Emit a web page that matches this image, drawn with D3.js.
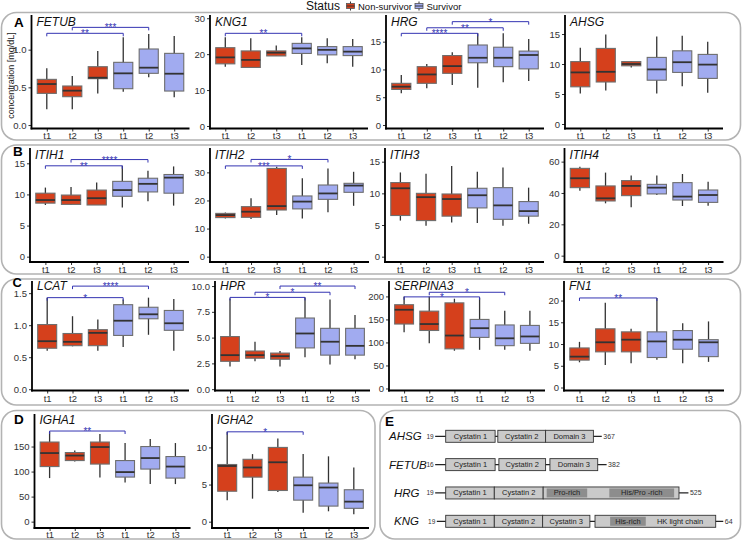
<!DOCTYPE html>
<html><head><meta charset="utf-8">
<script src="https://cdn.jsdelivr.net/npm/d3@7"></script>
<style>body{margin:0;background:#fff} svg{display:block;font-family:Arial,"Liberation Sans",sans-serif}</style>
</head><body><svg id="c" width="744" height="542"></svg>
<script>
// ---------- DATA ----------
const timeLabels = ["t1","t2","t3","t1","t2","t3"];
const groupStatus = ["Non-survivor","Non-survivor","Non-survivor","Survivor","Survivor","Survivor"];
const statusNames = ["Non-survivor","Survivor"];
// each box: [lower whisker, Q1, median, Q3, upper whisker]
const FETUB = [[0.21,0.42,0.544,0.606,0.752],[0.21,0.376,0.456,0.518,0.65],[0.42,0.615,0.628,0.774,0.982],[0.442,0.482,0.686,0.832,1.164],[0.633,0.686,0.761,1.009,1.208],[0.367,0.451,0.681,0.951,1.181]];
const KNG1 = [[16.5,17.3,19.1,21.8,24.7],[16.3,16.3,18.4,20.9,24.4],[19.5,19.5,20.4,20.9,22.4],[17.0,20.2,21.6,23.0,24.7],[17.5,19.8,21.2,22.1,24.4],[16.5,19.6,20.7,22.1,24.2]];
const HRG = [[5.7,6.4,6.9,7.5,9.0],[6.6,7.5,9.1,10.5,11.0],[7.2,9.3,10.6,12.5,13.1],[6.7,11.2,12.1,14.4,16.5],[7.7,10.5,12.1,14.0,16.5],[7.9,10.1,12.6,13.3,15.5]];
const AHSG = [[5.1,6.2,8.6,10.4,12.7],[5.6,7.0,8.7,12.6,14.9],[9.4,9.7,10.0,10.4,10.5],[5.1,7.3,9.1,11.1,14.6],[6.3,8.6,10.3,12.2,14.7],[5.2,7.6,9.9,11.6,13.7]];
const ITIH1 = [[8.3,8.6,9.1,10.2,11.1],[8.3,8.4,9.1,9.9,11.2],[8.3,8.3,9.4,10.7,11.9],[7.9,9.7,10.7,12.1,14.6],[8.9,10.4,11.7,12.6,13.8],[8.2,10.2,12.7,13.2,14.5]];
const ITIH2 = [[13.6,13.9,14.8,15.4,15.7],[13.4,14.0,16.0,17.8,20.8],[14.8,16.6,18.0,31.4,32.0],[13.6,17.0,19.6,21.6,27.9],[15.8,20.4,22.5,25.5,31.4],[18.1,22.9,25.3,26.1,30.2]];
const ITIH3 = [[5.7,6.5,10.8,11.7,13.3],[4.9,5.7,9.4,10.0,13.1],[5.4,6.4,9.1,9.9,14.3],[5.3,7.7,9.7,10.8,13.4],[4.9,5.9,8.1,10.9,14.1],[5.2,6.4,7.2,8.7,10.9]];
const ITIH4 = [[41.5,43.4,49.4,55.7,56.8],[33.4,34.9,36.6,44.5,53.0],[30.9,38.3,44.5,47.9,51.1],[38.7,39.4,43.4,45.5,51.1],[31.7,35.5,37.7,46.6,52.1],[31.9,34.0,38.7,41.9,47.2]];
const LCAT = [[0.60,0.64,0.75,1.01,1.43],[0.67,0.68,0.74,0.87,1.14],[0.60,0.68,0.88,0.93,1.09],[0.66,0.84,1.07,1.32,1.40],[0.85,1.10,1.17,1.28,1.43],[0.60,0.92,1.03,1.23,1.41]];
const HPR = [[2.2,2.7,3.3,5.1,8.8],[2.7,3.0,3.3,3.7,4.6],[2.2,2.9,3.2,3.5,3.7],[3.1,4.0,5.4,6.9,8.9],[2.4,3.3,4.6,5.9,8.7],[2.9,3.3,4.2,5.9,7.2]];
const SERPINA3 = [[122,140,171,182,200],[98,126,140,168,200],[82,86,115,186,195],[84,111,131,150,197],[84,93,109,138,169],[82,98,113,137,169]];
const FN1 = [[5.8,6.3,7.1,9.1,10.5],[5.2,8.2,10.4,13.5,19.5],[5.6,8.2,11.0,12.8,13.5],[6.4,6.9,10.6,12.8,20.6],[5.6,8.8,11.0,13.1,14.8],[5.9,7.1,10.4,11.0,15.2]];
const IGHA1 = [[87,110,137,159,180],[120,122,132,138,142],[88,115,149,159,175],[78,89,99,122,157],[75,105,127,150,165],[75,87,110,130,157]];
const IGHA2 = [[2.9,4.1,7.5,7.7,12.1],[3.1,6.0,7.3,8.4,9.1],[4.0,4.2,8.0,10.0,11.2],[1.2,2.9,4.9,6.0,9.1],[1.4,2.1,4.6,5.2,8.8],[1.0,1.8,2.7,4.3,7.3]];

// significance brackets: [from group, to group, y value, label]
const FETUB_sig = [[0,3,1.217,"**"],[1,4,1.296,"***"]];
const KNG1_sig = [[0,3,25.8,"**"]];
const HRG_sig = [[0,3,16.5,"****"],[1,4,17.5,"**"],[2,5,18.6,"*"]];
const ITIH1_sig = [[0,3,14.6,"**"],[1,4,15.6,"****"]];
const ITIH2_sig = [[0,3,32.3,"***"],[1,4,34.6,"*"]];
const LCAT_sig = [[0,3,1.43,"*"],[1,4,1.61,"****"]];
const HPR_sig = [[0,3,8.9,"*"],[1,4,9.4,"*"],[2,5,10.0,"**"]];
const SERPINA3_sig = [[0,3,199,"*"],[1,4,209,"*"]];
const FN1_sig = [[0,3,20.6,"**"]];
const IGHA1_sig = [[0,3,181,"**"]];
const IGHA2_sig = [[0,3,12.1,"*"]];

// y tick labels
const ticks_FETUB = [0,0.5,1.0], ticks_KNG1=[0,10,20,30], ticks_HRG=[0,5,10,15], ticks_AHSG=[0,5,10,15];
const ticks_ITIH1=[0,5,10,15], ticks_ITIH2=[0,10,20,30], ticks_ITIH3=[0,5,10,15], ticks_ITIH4=[0,20,40,60];
const ticks_LCAT=[0,0.5,1.0,1.5], ticks_HPR=[0,2.5,5,7.5,10], ticks_SERPINA3=[0,50,100,150,200], ticks_FN1=[0,5,10,15,20];
const ticks_IGHA1=[0,50,100,150], ticks_IGHA2=[0,5,10];
// y ranges of each panel
const yDomains = {FETUB:[-0.046,1.46],KNG1:[-0.70,30.9],HRG:[-0.63,19.8],AHSG:[-0.75,18.17],
 ITIH1:[-0.857,17.46],ITIH2:[-1.9,38.67],ITIH3:[-0.84,17.16],ITIH4:[-4.04,68.7],
 LCAT:[-0.02,1.69],HPR:[-0.13,10.49],SERPINA3:[-4.4,233.5],FN1:[-0.69,24.5],
 IGHA1:[-12.7,215],IGHA2:[-0.85,14.5]};

// Panel E domain diagram (positions in relative units 0..100)
const geneNames = ["AHSG","FETUB","HRG","KNG"];
const startNums = ["19","16","19","19"];
const endNums = ["367","382","525","64"];
const lineSpans = [[[-3.9,57.8]],[[-3.9,59.6]],[[-3.9,89.9]],[[-3.3,102.8]]];
const domainBoxes = [
 [["Cystatin 1",0,18.3],["Cystatin 2",19.3,37.0],["Domain 3",37.0,54.7]],
 [["Cystatin 1",0,18.3],["Cystatin 2",19.7,37.0],["Domain 3",38.6,56.3]],
 [["Cystatin 1",0,18.0],["Cystatin 2",18.0,36.1],["",36.1,86.4]],
 [["Cystatin 1",0,18.0],["Cystatin 2",18.0,35.9],["Cystatin 3",35.9,53.4],["",55.3,100]]
];
const innerBoxes = [[],[],[["Pro-rich",37.4,52.4],["His/Pro -rich",60.6,84.6]],[["His-rich",60.9,74.1]]];
const extraLabels = [[],[],[],[["HK light chain",86.8]]];

// ---------- LAYOUT ----------
const colors = {"Non-survivor":"#d5401c","Survivor":"#a1abf0"};
const sigColor = "#3434b2";
const rows = [
 {top:15, bottom:128.5, tickY:135, titleY:26, plots:[["FETUB",31.5,158],["KNG1",210,158],["HRG",386,158],["AHSG",565,158]]},
 {top:148, bottom:262, tickY:269, titleY:159, plots:[["ITIH1",30,159],["ITIH2",210,159],["ITIH3",385,159],["ITIH4",564.5,159]]},
 {top:281, bottom:390.5, tickY:398, titleY:290, plots:[["LCAT",32,157],["HPR",215,155],["SERPINA3",389,156],["FN1",564,160]]},
 {top:414, bottom:528, tickY:534, titleY:424, plots:[["IGHA1",34.5,156],["IGHA2",212,157]]}
];
const dataMap = {FETUB,KNG1,HRG,AHSG,ITIH1,ITIH2,ITIH3,ITIH4,LCAT,HPR,SERPINA3,FN1,IGHA1,IGHA2};
const sigMap = {FETUB:FETUB_sig,KNG1:KNG1_sig,HRG:HRG_sig,ITIH1:ITIH1_sig,ITIH2:ITIH2_sig,LCAT:LCAT_sig,HPR:HPR_sig,SERPINA3:SERPINA3_sig,FN1:FN1_sig,IGHA1:IGHA1_sig,IGHA2:IGHA2_sig};
const tickMap = {FETUB:ticks_FETUB,KNG1:ticks_KNG1,HRG:ticks_HRG,AHSG:ticks_AHSG,ITIH1:ticks_ITIH1,ITIH2:ticks_ITIH2,ITIH3:ticks_ITIH3,ITIH4:ticks_ITIH4,LCAT:ticks_LCAT,HPR:ticks_HPR,SERPINA3:ticks_SERPINA3,FN1:ticks_FN1,IGHA1:ticks_IGHA1,IGHA2:ticks_IGHA2};
const fmtMap = {FETUB:".1f",LCAT:".1f",HPR:".1f"};

const svg = d3.select("#c");

// panel frames
const frames = [[1.5,12.5,739,127.5],[1.5,145,739,129],[1.5,279,739,126],[1.5,410.5,373.5,128.5],[380,410.5,360.5,128.5]];
svg.selectAll("rect.frame").data(frames).join("rect").attr("class","frame")
 .attr("x",d=>d[0]).attr("y",d=>d[1]).attr("width",d=>d[2]).attr("height",d=>d[3])
 .attr("rx",15).attr("fill","none").attr("stroke","#b3b3b3").attr("stroke-width",1.6);

// panel letters
[["A",14,26.5,13.5],["B",13,156,13.5],["C",12.5,287.3,12.8],["D",14,423.5,13.5],["E",385,426,13.5]].forEach(l=>{
 svg.append("text").attr("x",l[1]).attr("y",l[2]).attr("font-size",l[3]).attr("font-weight","bold").text(l[0]);
});

// legend
svg.append("text").attr("x",306).attr("y",10).attr("font-size",12).attr("fill","#111").text("Status");
const legX = [346, 414.5];
statusNames.forEach((s,i)=>{
 const g = svg.append("g").attr("transform",`translate(${legX[i]},0)`);
 g.append("line").attr("x1",4.5).attr("x2",4.5).attr("y1",1.5).attr("y2",10.5).attr("stroke","#333").attr("stroke-width",1);
 g.append("rect").attr("x",0.5).attr("y",3.5).attr("width",8).attr("height",5).attr("fill",colors[s]).attr("stroke","#555").attr("stroke-width",0.8);
 g.append("line").attr("x1",0.5).attr("x2",8.5).attr("y1",6).attr("y2",6).attr("stroke","#333").attr("stroke-width",1);
 g.append("text").attr("x",12).attr("y",9.5).attr("font-size",9.5).attr("fill","#111").text(s);
});

// y-axis title
svg.append("text").attr("transform","translate(11,75.5) rotate(-90)").attr("text-anchor","middle")
 .attr("dominant-baseline","central").attr("font-size",9).attr("fill","#222").text("concentration [mg/dL]");

// boxplots
rows.forEach(row=>{
 row.plots.forEach(([name,x0,w])=>{
  const data = dataMap[name];
  const x = d3.scalePoint().domain(d3.range(6)).range([x0,x0+w]).padding(0.6);
  const step = x.step();
  const bw = step*0.75;
  const y = d3.scaleLinear().domain(yDomains[name]).range([row.bottom,row.top]);
  const g = svg.append("g");
  const fmt = fmtMap[name] ? d3.format(fmtMap[name]) : d3.format("d");
  const yAxis = d3.axisLeft(y).tickValues(tickMap[name]).tickSize(3).tickPadding(2).tickFormat(fmt);
  const ya = g.append("g").attr("transform",`translate(${x0},0)`).call(yAxis);
  ya.select(".domain").remove();
  ya.selectAll(".tick line").attr("stroke","#333");
  ya.selectAll(".tick text").attr("font-size",9.5).attr("fill","#333").attr("font-family","Arial, Liberation Sans, sans-serif");
  const xAxis = d3.axisBottom(x).tickSize(3).tickPadding(2).tickFormat(i=>timeLabels[i]);
  const xa = g.append("g").attr("transform",`translate(0,${row.bottom})`).call(xAxis);
  xa.select(".domain").remove();
  xa.selectAll(".tick line").attr("stroke","#333");
  xa.selectAll(".tick text").attr("font-size",9.5).attr("fill","#333").attr("dy",null)
    .attr("font-family","Arial, Liberation Sans, sans-serif")
    .attr("y", row.tickY-row.bottom).attr("dominant-baseline","central");
  g.append("line").attr("x1",x0).attr("x2",x0).attr("y1",row.top).attr("y2",row.bottom+0.9).attr("stroke","#000").attr("stroke-width",1.8);
  g.append("line").attr("x1",x0-0.9).attr("x2",x0+w).attr("y1",row.bottom).attr("y2",row.bottom).attr("stroke","#000").attr("stroke-width",1.8);
  const bx = g.selectAll("g.box").data(data).join("g").attr("class","box");
  bx.append("line").attr("x1",(d,i)=>x(i)).attr("x2",(d,i)=>x(i)).attr("y1",d=>y(d[0])).attr("y2",d=>y(d[4]))
    .attr("stroke","#333").attr("stroke-width",1.3);
  bx.append("rect").attr("x",(d,i)=>x(i)-bw/2).attr("width",bw).attr("y",d=>y(d[3])).attr("height",d=>Math.max(0.5,y(d[1])-y(d[3])))
    .attr("fill",(d,i)=>colors[groupStatus[i]]).attr("stroke","#6e6e6e").attr("stroke-width",1.1);
  bx.append("line").attr("x1",(d,i)=>x(i)-bw/2).attr("x2",(d,i)=>x(i)+bw/2).attr("y1",d=>y(d[2])).attr("y2",d=>y(d[2]))
    .attr("stroke","#333").attr("stroke-width",1.8);
  g.append("text").attr("x",x0+5).attr("y",row.titleY).attr("font-size",12).attr("font-style","italic").attr("fill","#111").text(name);
  const sig = sigMap[name] || [];
  const sg = g.selectAll("g.sig").data(sig).join("g").attr("class","sig");
  sg.append("path").attr("d",d=>{const a=x(d[0]),b=x(d[1]),yy=y(d[2]);return `M${a},${yy+3}V${yy}H${b}V${yy+3}`;})
    .attr("fill","none").attr("stroke",sigColor).attr("stroke-width",1);
  sg.append("text").attr("x",d=>(x(d[0])+x(d[1]))/2).attr("y",d=>y(d[2])+4).attr("text-anchor","middle")
    .attr("font-size",10).attr("fill",sigColor).text(d=>d[3]);
 });
});

// Panel E
const ex = d3.scaleLinear().domain([0,100]).range([445.7,715.7]);
const rowY = d3.scalePoint().domain(geneNames).range([436.3,521.3]);
const labelX = [389,389,394,394];
geneNames.forEach((gname,gi)=>{
 const cy = rowY(gname);
 const g = svg.append("g");
 g.append("text").attr("x",labelX[gi]).attr("y",cy).attr("dominant-baseline","central").attr("font-size",11.5)
  .attr("font-style","italic").attr("fill","#111").text(gname);
 lineSpans[gi].forEach(s=>{
  g.append("line").attr("x1",ex(s[0])).attr("x2",ex(s[1])).attr("y1",cy).attr("y2",cy).attr("stroke","#222").attr("stroke-width",1.2);
 });
 g.append("text").attr("x",ex(lineSpans[gi][0][0])-1.5).attr("y",cy).attr("text-anchor","end").attr("dominant-baseline","central")
  .attr("font-size",6.5).attr("fill","#333").text(startNums[gi]);
 g.append("text").attr("x",ex(lineSpans[gi][0][1])+1.5).attr("y",cy).attr("dominant-baseline","central")
  .attr("font-size",7).attr("fill","#333").text(endNums[gi]);
 domainBoxes[gi].forEach(b=>{
  g.append("rect").attr("x",ex(b[1])).attr("y",cy-6).attr("width",ex(b[2])-ex(b[1])).attr("height",12)
   .attr("fill","#cacaca").attr("stroke","#333").attr("stroke-width",0.9);
  if(b[0]) g.append("text").attr("x",(ex(b[1])+ex(b[2]))/2).attr("y",cy).attr("text-anchor","middle").attr("dominant-baseline","central")
   .attr("font-size",7.5).attr("fill","#222").text(b[0]);
 });
 innerBoxes[gi].forEach(b=>{
  g.append("rect").attr("x",ex(b[1])).attr("y",cy-4.5).attr("width",ex(b[2])-ex(b[1])).attr("height",9).attr("fill","#8d8d8d");
  g.append("text").attr("x",(ex(b[1])+ex(b[2]))/2).attr("y",cy).attr("text-anchor","middle").attr("dominant-baseline","central")
   .attr("font-size",7.5).attr("fill","#222").text(b[0]);
 });
 extraLabels[gi].forEach(b=>{
  g.append("text").attr("x",ex(b[1])).attr("y",cy).attr("text-anchor","middle").attr("dominant-baseline","central")
   .attr("font-size",7.5).attr("fill","#222").text(b[0]);
 });
});
</script></body></html>
